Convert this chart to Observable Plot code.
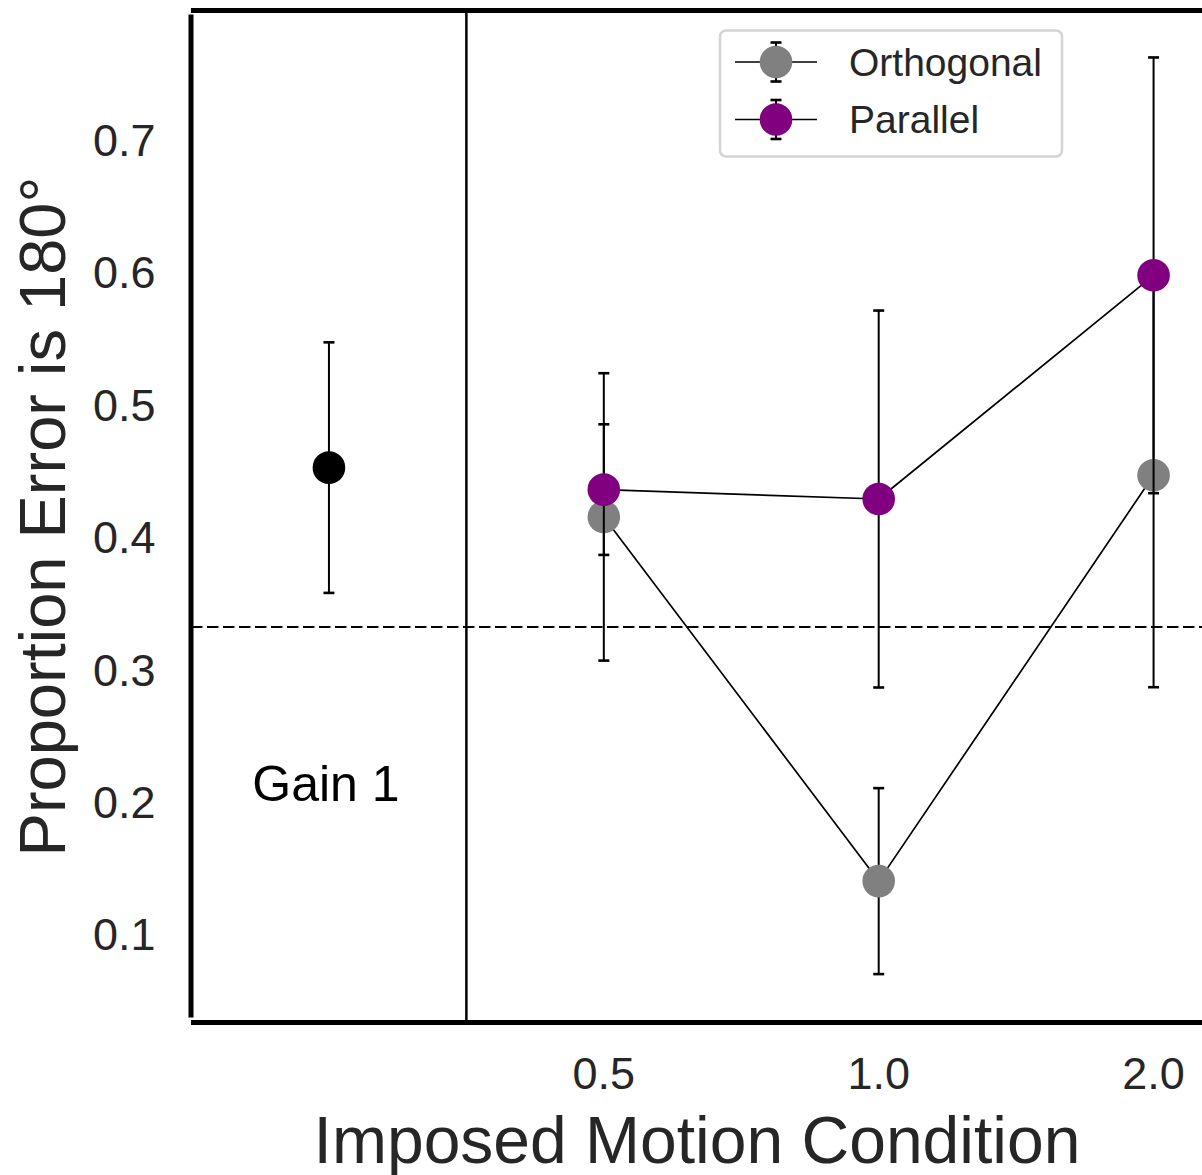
<!DOCTYPE html>
<html><head><meta charset="utf-8">
<script src="https://cdn.jsdelivr.net/npm/d3@7"></script>
<script src="https://cdn.jsdelivr.net/npm/@observablehq/plot@0.6"></script>
<style>
html,body{margin:0;padding:0;background:#fff;overflow:hidden;}
#chart svg{display:block;}
</style></head><body><div id="chart"></div>
<script>
// ---- data ----
const gainLabel = ["Gain 1"];
const gainMean = [0.4537];
const gainErr = [0.0946];
const conditions = ["0.5", "1.0", "2.0"];
const orthMean = [0.4165, 0.1415, 0.4479];
const orthErr = [0.1085, 0.0702, 0.1600];
const parMean = [0.4371, 0.4300, 0.5989];
const parErr = [0.0493, 0.1423, 0.1645];
const chance = [1 / 3];
const seriesNames = ["Orthogonal", "Parallel"];
const seriesColors = ["#808080", "#800080"];
const yTicks = [0.1, 0.2, 0.3, 0.4, 0.5, 0.6, 0.7];
const xTitle = "Imposed Motion Condition";
const yTitle = "Proportion Error is 180°";

// ---- tables ----
const gainRows = gainMean.map((m, i) => ({x: i, mean: m, err: gainErr[i], label: gainLabel[i], y: 0.2}));
const orthRows = conditions.map((c, i) => ({x: i + 1, cond: c, mean: orthMean[i], err: orthErr[i]}));
const parRows = conditions.map((c, i) => ({x: i + 1, cond: c, mean: parMean[i], err: parErr[i]}));

const capSymbol = {draw(ctx) { ctx.moveTo(-5.5, 0); ctx.lineTo(5.5, 0); }};
const FONT = "'Liberation Sans', Arial, Helvetica, sans-serif";
const TXT = "#262626";

function seriesMarks(rows, color) {
  return [
    Plot.line(rows, {x: "x", y: "mean", stroke: "black", strokeWidth: 1.7}),
    Plot.ruleX(rows, {x: "x", y1: d => d.mean - d.err, y2: d => d.mean + d.err, stroke: "black", strokeWidth: 2}),
    Plot.dot(rows, {x: "x", y: d => d.mean + d.err, symbol: capSymbol, r: 5, stroke: "black", strokeWidth: 2.6, fill: "none"}),
    Plot.dot(rows, {x: "x", y: d => d.mean - d.err, symbol: capSymbol, r: 5, stroke: "black", strokeWidth: 2.6, fill: "none"}),
    Plot.dot(rows, {x: "x", y: "mean", r: 16.3, fill: color, stroke: "none"})
  ];
}

const yDomain = [0.0355, 0.7981];
const xDomain = [-0.5, 3.178];

const plot = Plot.plot({
  width: 1202,
  height: 1175,
  marginLeft: 191,
  marginRight: 0,
  marginTop: 11,
  marginBottom: 154,
  style: {fontFamily: FONT, color: TXT, background: "white", overflow: "visible"},
  x: {domain: xDomain},
  y: {domain: yDomain},
  marks: [
    Plot.ruleY(chance, {stroke: "black", strokeWidth: 2, strokeDasharray: "11.5,4.5"}),
    Plot.ruleX([0.5], {stroke: "black", strokeWidth: 2.5}),
    Plot.axisY({ticks: yTicks, tickFormat: d => d.toFixed(1), tickSize: 0, tickPadding: 36, fontSize: 45, label: null}),
    Plot.axisX({ticks: [1, 2, 3], tickFormat: i => conditions[i - 1], tickSize: 0, tickPadding: 36, fontSize: 45, label: null}),
    Plot.text([xTitle], {frameAnchor: "bottom", lineAnchor: "middle", textAnchor: "middle", dy: 120, fontSize: 66, fill: TXT}),
    Plot.text([yTitle], {frameAnchor: "left", lineAnchor: "middle", textAnchor: "middle", dx: -147, rotate: -90, fontSize: 65, fill: TXT}),
    Plot.text(gainRows, {x: "x", y: "y", text: "label", lineAnchor: "bottom", fontSize: 50, fill: "black", dx: -3, dy: -3}),
    // Gain 1 point
    Plot.ruleX(gainRows, {x: "x", y1: d => d.mean - d.err, y2: d => d.mean + d.err, stroke: "black", strokeWidth: 2}),
    Plot.dot(gainRows, {x: "x", y: d => d.mean + d.err, symbol: capSymbol, r: 5, stroke: "black", strokeWidth: 2.6, fill: "none"}),
    Plot.dot(gainRows, {x: "x", y: d => d.mean - d.err, symbol: capSymbol, r: 5, stroke: "black", strokeWidth: 2.6, fill: "none"}),
    Plot.dot(gainRows, {x: "x", y: "mean", r: 16.3, fill: "black", stroke: "none"}),
    ...seriesMarks(orthRows, seriesColors[0]),
    ...seriesMarks(parRows, seriesColors[1]),
    // spines
    Plot.ruleY([yDomain[1]], {stroke: "black", strokeWidth: 5, dy: -1}),
    Plot.ruleY([yDomain[0]], {stroke: "black", strokeWidth: 5, dy: 1}),
    Plot.ruleX([xDomain[0]], {stroke: "black", strokeWidth: 5, dx: -0.5, y1: yDomain[0], y2: yDomain[1], insetTop: -3.5, insetBottom: -3.5})
  ]
});

// ---- legend (inside the plot area, upper right) ----
const svg = d3.select(plot);
const lg = svg.append("g").attr("font-family", FONT);
lg.append("rect").attr("x", 720).attr("y", 30.5).attr("width", 342).attr("height", 126)
  .attr("rx", 6).attr("fill", "white").attr("stroke", "#d4d4d4").attr("stroke-width", 2.5);
seriesNames.forEach((name, i) => {
  const cy = 62 + i * 57.5, cx = 776;
  const g = lg.append("g");
  g.append("line").attr("x1", 735).attr("x2", 817).attr("y1", cy).attr("y2", cy).attr("stroke", "black").attr("stroke-width", 1.7);
  g.append("line").attr("x1", cx).attr("x2", cx).attr("y1", cy - 19.5).attr("y2", cy + 19.5).attr("stroke", "black").attr("stroke-width", 2);
  [cy - 19.5, cy + 19.5].forEach(yy => g.append("line").attr("x1", cx - 5.5).attr("x2", cx + 5.5).attr("y1", yy).attr("y2", yy).attr("stroke", "black").attr("stroke-width", 2.6));
  g.append("circle").attr("cx", cx).attr("cy", cy).attr("r", 16.3).attr("fill", seriesColors[i]);
  g.append("text").attr("x", 849).attr("y", cy).attr("dy", "0.35em").attr("text-anchor", "start")
    .attr("font-size", 39).attr("fill", TXT).text(name);
});

document.getElementById("chart").appendChild(plot);
</script>
</body></html>
